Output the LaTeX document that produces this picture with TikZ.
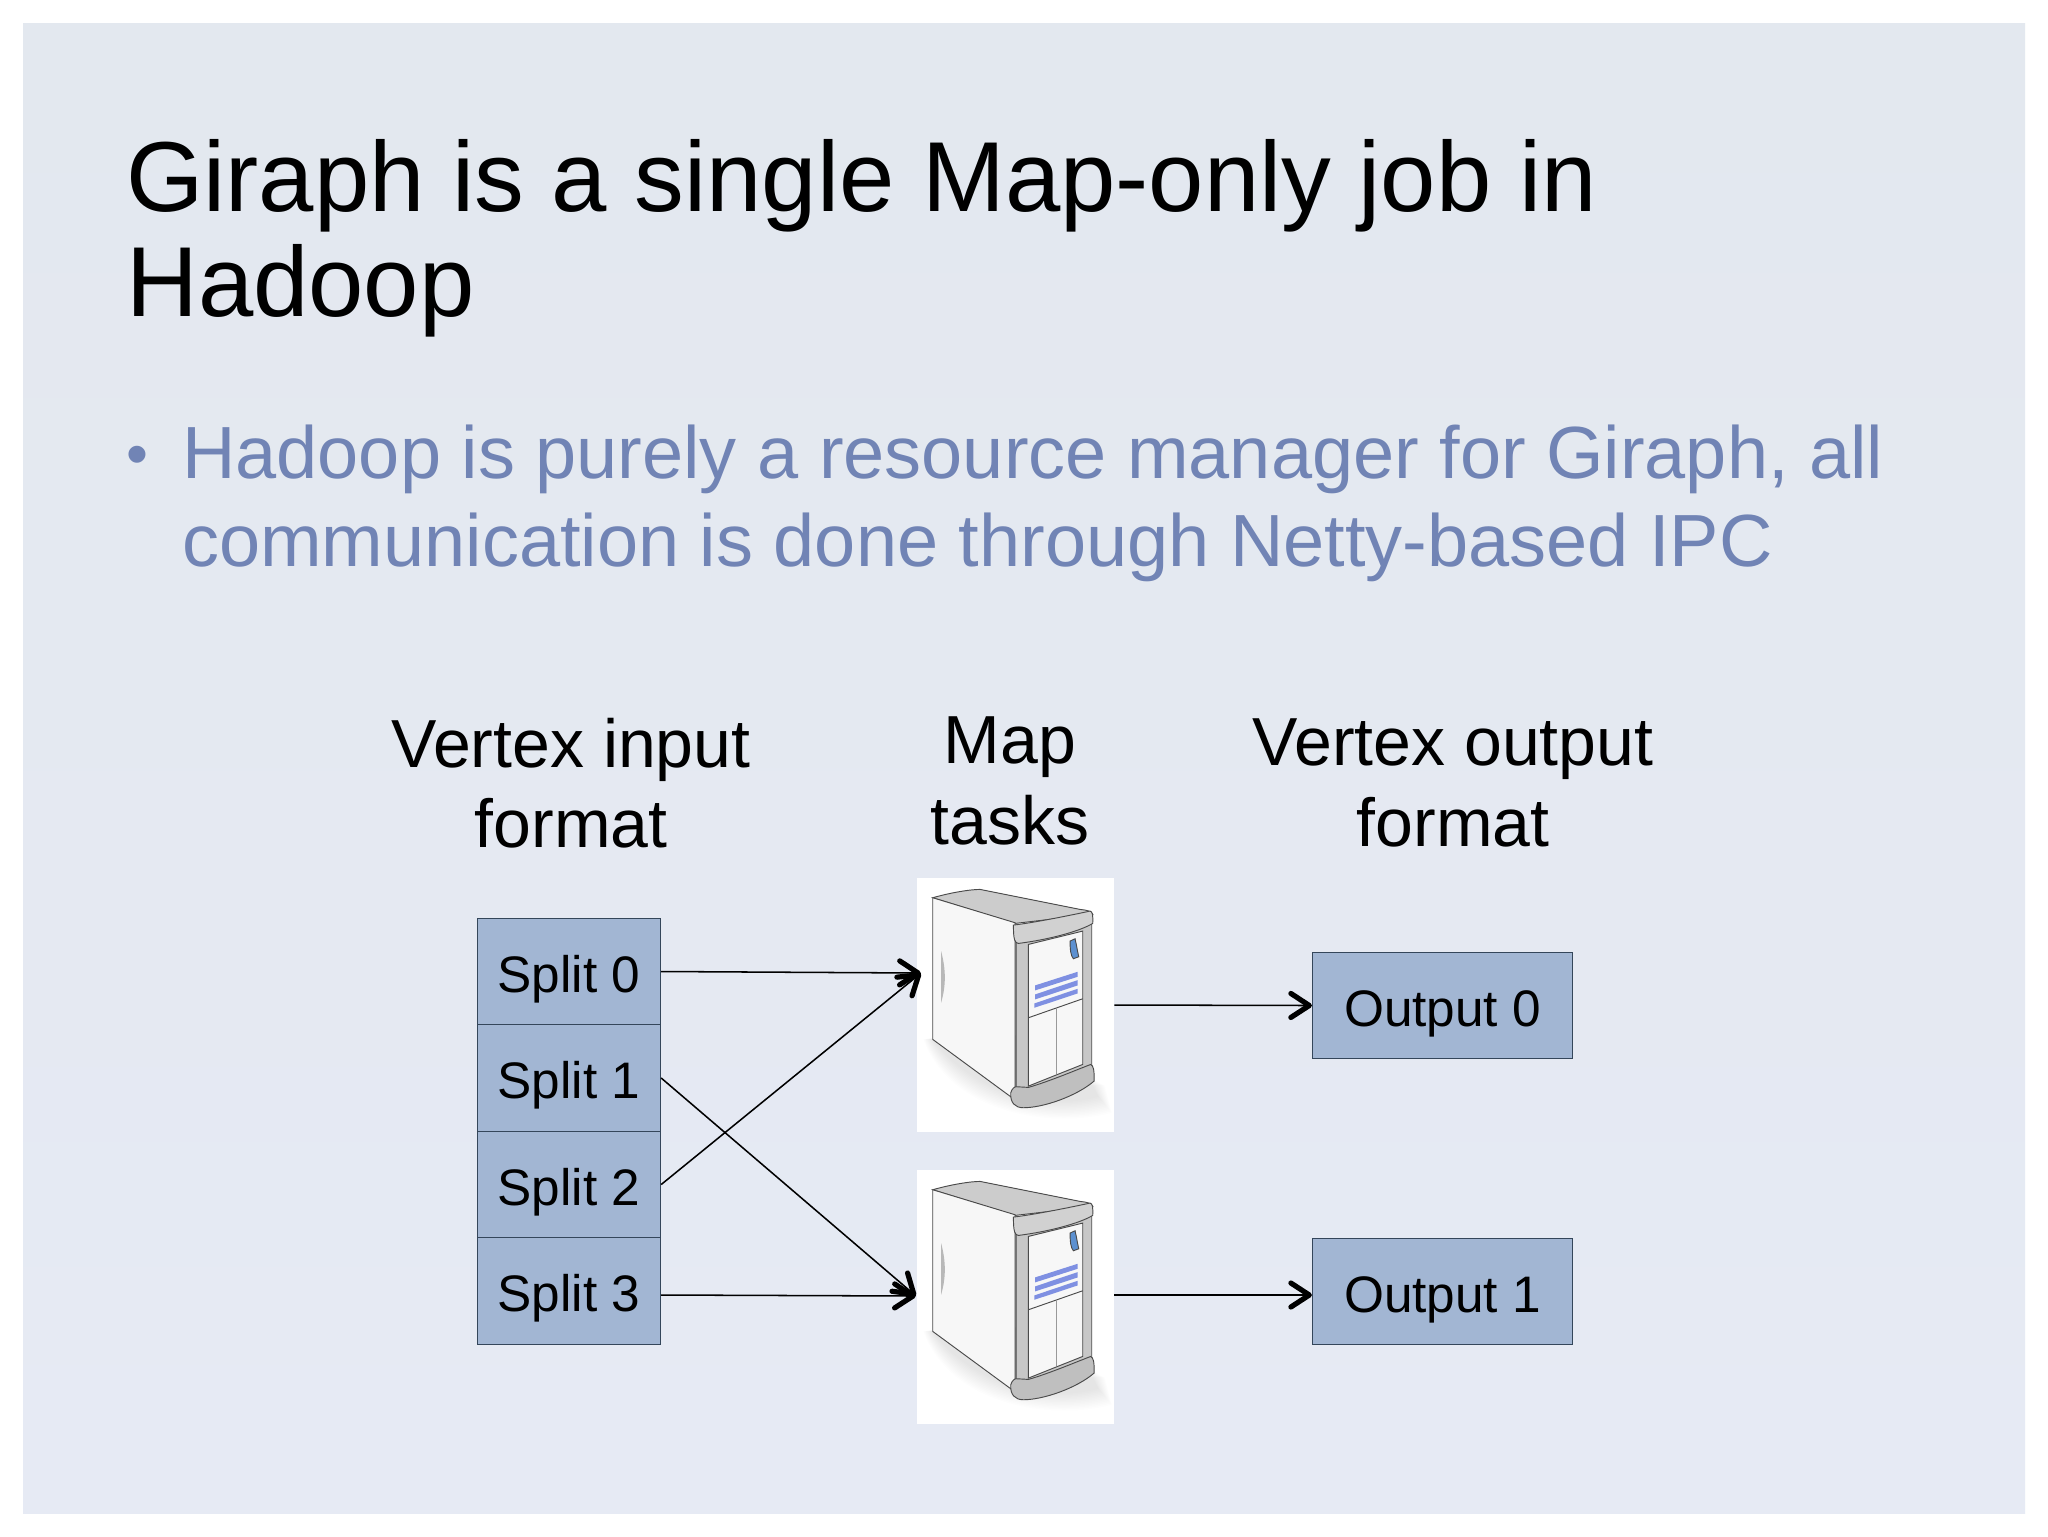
\documentclass[tikz,border=0pt]{standalone}
\usepackage{fontspec}
\setmainfont{Liberation Sans}
\usetikzlibrary{arrows.meta,calc}
\definecolor{bgtop}{HTML}{E3E8EF}
\definecolor{bgbot}{HTML}{E6EAF4}
\definecolor{boxfill}{HTML}{A2B6D3}
\definecolor{boxline}{HTML}{34465A}
\definecolor{bodytext}{HTML}{7184B5}
\definecolor{stripe}{HTML}{7F90E2}
\definecolor{switchblue}{HTML}{5C90D0}
\definecolor{srvline}{HTML}{4A4A4A}
\pgfdeclarearrow{
  name=HeavyBarb,
  setup code={\pgfarrowssettipend{0pt}\pgfarrowssetbackend{-17pt}\pgfarrowssetlineend{-2pt}\pgfarrowssetvisualbackend{-17pt}},
  drawing code={
    \pgfsetdash{}{0pt}\pgfsetlinewidth{3.9pt}\pgfsetroundcap\pgfsetroundjoin
    \pgfpathmoveto{\pgfpoint{-16pt}{9pt}}
    \pgfpathlineto{\pgfpoint{-2.2pt}{0pt}}
    \pgfpathlineto{\pgfpoint{-16pt}{-9pt}}
    \pgfusepathqstroke
  }
}
\tikzset{
  x=.75pt,y=-.75pt,
  splitbox/.style={draw=boxline,fill=boxfill,line width=.8pt,inner sep=0pt,minimum width=137.5pt,minimum height=79.9pt,
     font=\fontsize{38.5pt}{44pt}\selectfont,text height=30.75pt,text depth=0pt},
  outbox/.style={draw=boxline,fill=boxfill,line width=.8pt,inner sep=0pt,minimum width=194.6pt,minimum height=80pt,
     font=\fontsize{38.5pt}{44pt}\selectfont,text height=30.75pt,text depth=0pt},
  head/.style={inner sep=0pt,align=center,font=\fontsize{51pt}{60.3pt}\selectfont,text=black},
  conn/.style={line width=1.15pt,black,-HeavyBarb},
  whitebox/.style={fill=white,draw=none,inner sep=0pt,minimum width=147.75pt,minimum height=190.5pt},
  pics/server/.style={code={
    \begin{scope}[x=.25pt,y=-.25pt,shift={(-50,-55)}]
      \clip (50,55) rectangle (642,815);
      \foreach \i in {0,...,12}{
        \fill[black,opacity=.009] ({70+2.3*\i},540) .. controls ({150+4*\i},{760-6.5*\i}) and ({450-2.5*\i},{810-4*\i}) .. ({635-3.3*\i},{760-4*\i}) -- ({615-3*\i},680) -- (300,500) -- cycle;
      }
      \filldraw[fill=black!20,draw=srvline,line width=.7pt] (98,115) .. controls (150,100) and (210,90) .. (240,90) -- (540,150) .. controls (560,152) and (575,155) .. (578,165) -- (345,192) -- cycle;
      \filldraw[fill=black!3,draw=srvline,line width=.7pt] (98,115) -- (345,190) -- (345,690) -- (332,712) -- (98,540) -- cycle;
      \fill[black!28] (123,275) .. controls (138,330) and (138,380) .. (123,430) -- cycle;
      \filldraw[fill=black!22,draw=srvline,line width=.7pt] (348,240) -- (575,190) -- (575,630) -- (348,700) -- cycle;
      \filldraw[fill=black!3,draw=srvline,line width=.7pt] (385,255) -- (548,215) -- (548,615) -- (385,680) -- cycle;
      \draw[srvline,line width=.7pt] (385,475) -- (548,418);
      \draw[black!40,line width=.7pt] (470,445) -- (470,645);
      \fill[stripe] (405,378) -- (533,337) -- (533,352) -- (405,393) -- cycle;
      \fill[stripe] (405,405) -- (533,362) -- (533,378) -- (405,420) -- cycle;
      \fill[stripe] (403,432) -- (533,388) -- (533,402) -- (403,445) -- cycle;
      \filldraw[fill=switchblue,draw=srvline,line width=.7pt] (510,245) -- (525,238) .. controls (530,260) and (533,280) .. (536,292) -- (520,298) .. controls (512,290) and (510,270) .. (510,245) -- cycle;
      \filldraw[fill=black!18,draw=srvline,line width=.7pt] (340,197) .. controls (400,190) and (500,170) .. (570,155) .. controls (577,157) and (579,165) .. (578,192) .. controls (540,215) and (450,240) .. (355,252) .. controls (345,250) and (340,245) .. (340,197) -- cycle;
      \filldraw[fill=black!25,draw=srvline,line width=.7pt] (332,700) .. controls (335,688) and (345,680) .. (350,682) -- (385,684) .. controls (450,665) and (520,635) .. (572,615) .. controls (580,620) and (583,630) .. (582,665) .. controls (530,710) and (430,745) .. (370,745) .. controls (345,745) and (330,730) .. (332,700) -- cycle;
    \end{scope}
  }},
}
\begin{document}
\begin{tikzpicture}
\useasboundingbox (0,0) rectangle (2048,1536);
\fill[white] (0,0) rectangle (2048,1536);
\shade[top color=bgtop,bottom color=bgbot,draw=none] (23,23) rectangle (2025,1513);

\node[anchor=north west,inner sep=0pt,align=left,font=\fontsize{74.6pt}{78.75pt}\selectfont,text=black] (title) at (126,139)
  {Giraph is a single Map-only job in\\Hadoop};
\node[anchor=base,inner sep=0pt,font=\fontsize{47pt}{47pt}\selectfont,text=bodytext] (bullet) at (137,475) {•};
\node[anchor=north west,inner sep=0pt,align=left,font=\fontsize{55.45pt}{66pt}\selectfont,text=bodytext] (body) at (182,425)
  {Hadoop is purely a resource manager for Giraph, all\\communication is done through Netty-based IPC};

\node[head] (hin) at (571,783) {Vertex input\\format};
\node[head] (hmap) at (1010,781) {Map\\tasks};
\node[head] (hout) at (1453,783) {Vertex output\\format};

\node[splitbox] (s0) at (569,971.5) {Split 0};
\node[splitbox] (s1) at (569,1078) {Split 1};
\node[splitbox] (s2) at (569,1184.5) {Split 2};
\node[splitbox] (s3) at (569,1291) {Split 3};

\node[whitebox] (m0) at (1015.5,1005) {};
\node[whitebox] (m1) at (1015.5,1297) {};
\pic at (m0.north west) {server};
\pic at (m1.north west) {server};

\node[outbox] (o0) at (1442.5,1005.5) {Output 0};
\node[outbox] (o1) at (1442.5,1291.5) {Output 1};

\coordinate (t0) at (921,973);
\coordinate (t1) at (916,1296);
\coordinate (f3) at (s3.east |- 0,1295);
\coordinate (f5) at (m1.east |- 0,1295);
\coordinate (g5) at (o1.west |- 0,1295);
\draw[conn] (s0.east) -- (t0);
\draw[conn] (s2.east) -- (t0);
\draw[conn] (s1.east) -- (t1);
\draw[conn] (f3) -- (t1);
\draw[conn] (m0.east) -- (o0.west);
\draw[conn] (f5) -- (g5);
\end{tikzpicture}
\end{document}
